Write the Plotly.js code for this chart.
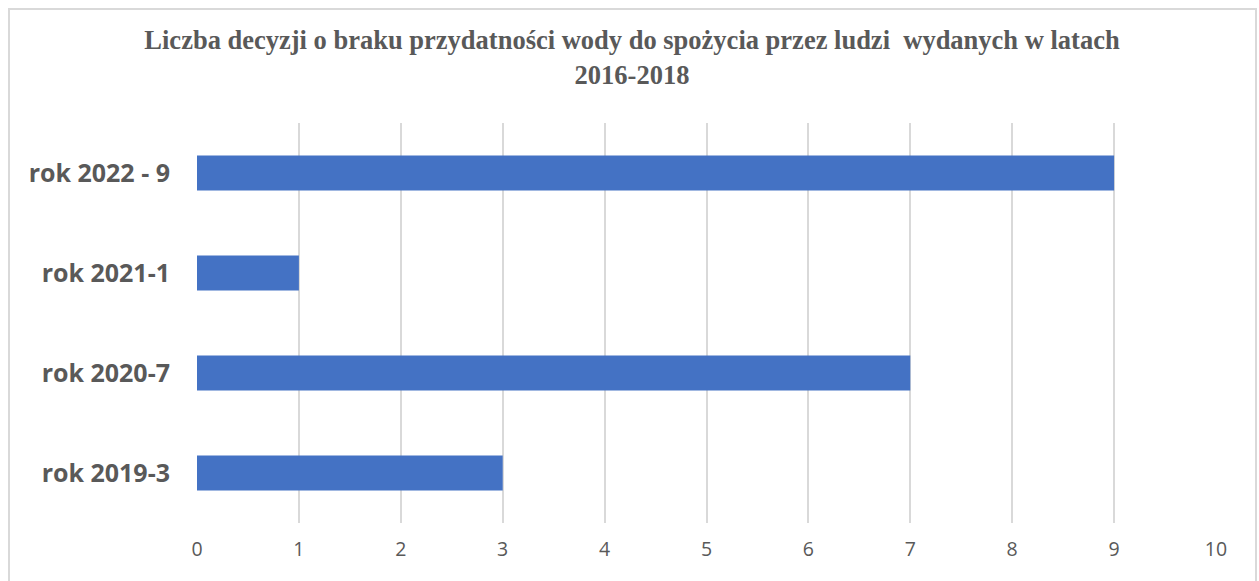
<!DOCTYPE html>
<html>
<head>
<meta charset="utf-8">
<script src="https://cdn.plot.ly/plotly-3.0.1.min.js"></script>
<style>html,body{margin:0;padding:0;background:#fff;}#chart{width:1259px;height:581px;}</style>
</head>
<body>
<div id="chart"></div>
<script>
const categories = ["rok 2019-3", "rok 2020-7", "rok 2021-1", "rok 2022 - 9"];
const values = [3, 7, 1, 9];
const titleText = "Liczba decyzji o braku przydatności wody do spożycia przez ludzi  wydanych w latach<br>2016-2018";
const xTicks = [0, 1, 2, 3, 4, 5, 6, 7, 8, 9, 10];

const trace = {
  type: "bar",
  orientation: "h",
  x: values,
  y: categories,
  marker: {color: "#4472c4", line: {color: "#4472c4", width: 0}},
  hoverinfo: "x+y"
};

const layout = {
  width: 1259,
  height: 581,
  margin: {l: 197, r: 43, t: 123, b: 58},
  paper_bgcolor: "#ffffff",
  plot_bgcolor: "#ffffff",
  bargap: 0.65,
  showlegend: false,
  font: {family: "'Open Sans', sans-serif"},
  title: {
    text: titleText,
    x: 0.502,
    xanchor: "center",
    y: 0.915,
    yanchor: "top",
    font: {family: "'Liberation Serif', serif", size: 26.5, color: "#595959", weight: "bold"}
  },
  xaxis: {
    range: [0, 10],
    tickvals: xTicks,
    ticktext: xTicks.map(String),
    showgrid: true,
    gridcolor: "#d9d9d9",
    gridwidth: 1.5,
    zeroline: false,
    showline: false,
    ticks: "",
    ticklabelstandoff: 12,
    tickfont: {family: "'Open Sans', sans-serif", size: 19.5, color: "#595959"},
    fixedrange: true
  },
  yaxis: {
    type: "category",
    categoryorder: "array",
    categoryarray: categories,
    showgrid: false,
    zeroline: false,
    showline: false,
    ticks: "",
    ticklabelstandoff: 26,
    tickfont: {family: "'Open Sans', sans-serif", size: 25, color: "#595959", weight: "bold"},
    fixedrange: true
  },
  shapes: [{
    type: "rect",
    xref: "paper", yref: "paper",
    x0: (9 - 197) / 1019, x1: (1256 - 197) / 1019,
    y0: (523 - 595) / 400, y1: (523 - 9) / 400,
    line: {color: "#d9d9d9", width: 2},
    fillcolor: "rgba(0,0,0,0)",
    layer: "below"
  }]
};

Plotly.newPlot("chart", [trace], layout, {displayModeBar: false});
</script>
</body>
</html>
